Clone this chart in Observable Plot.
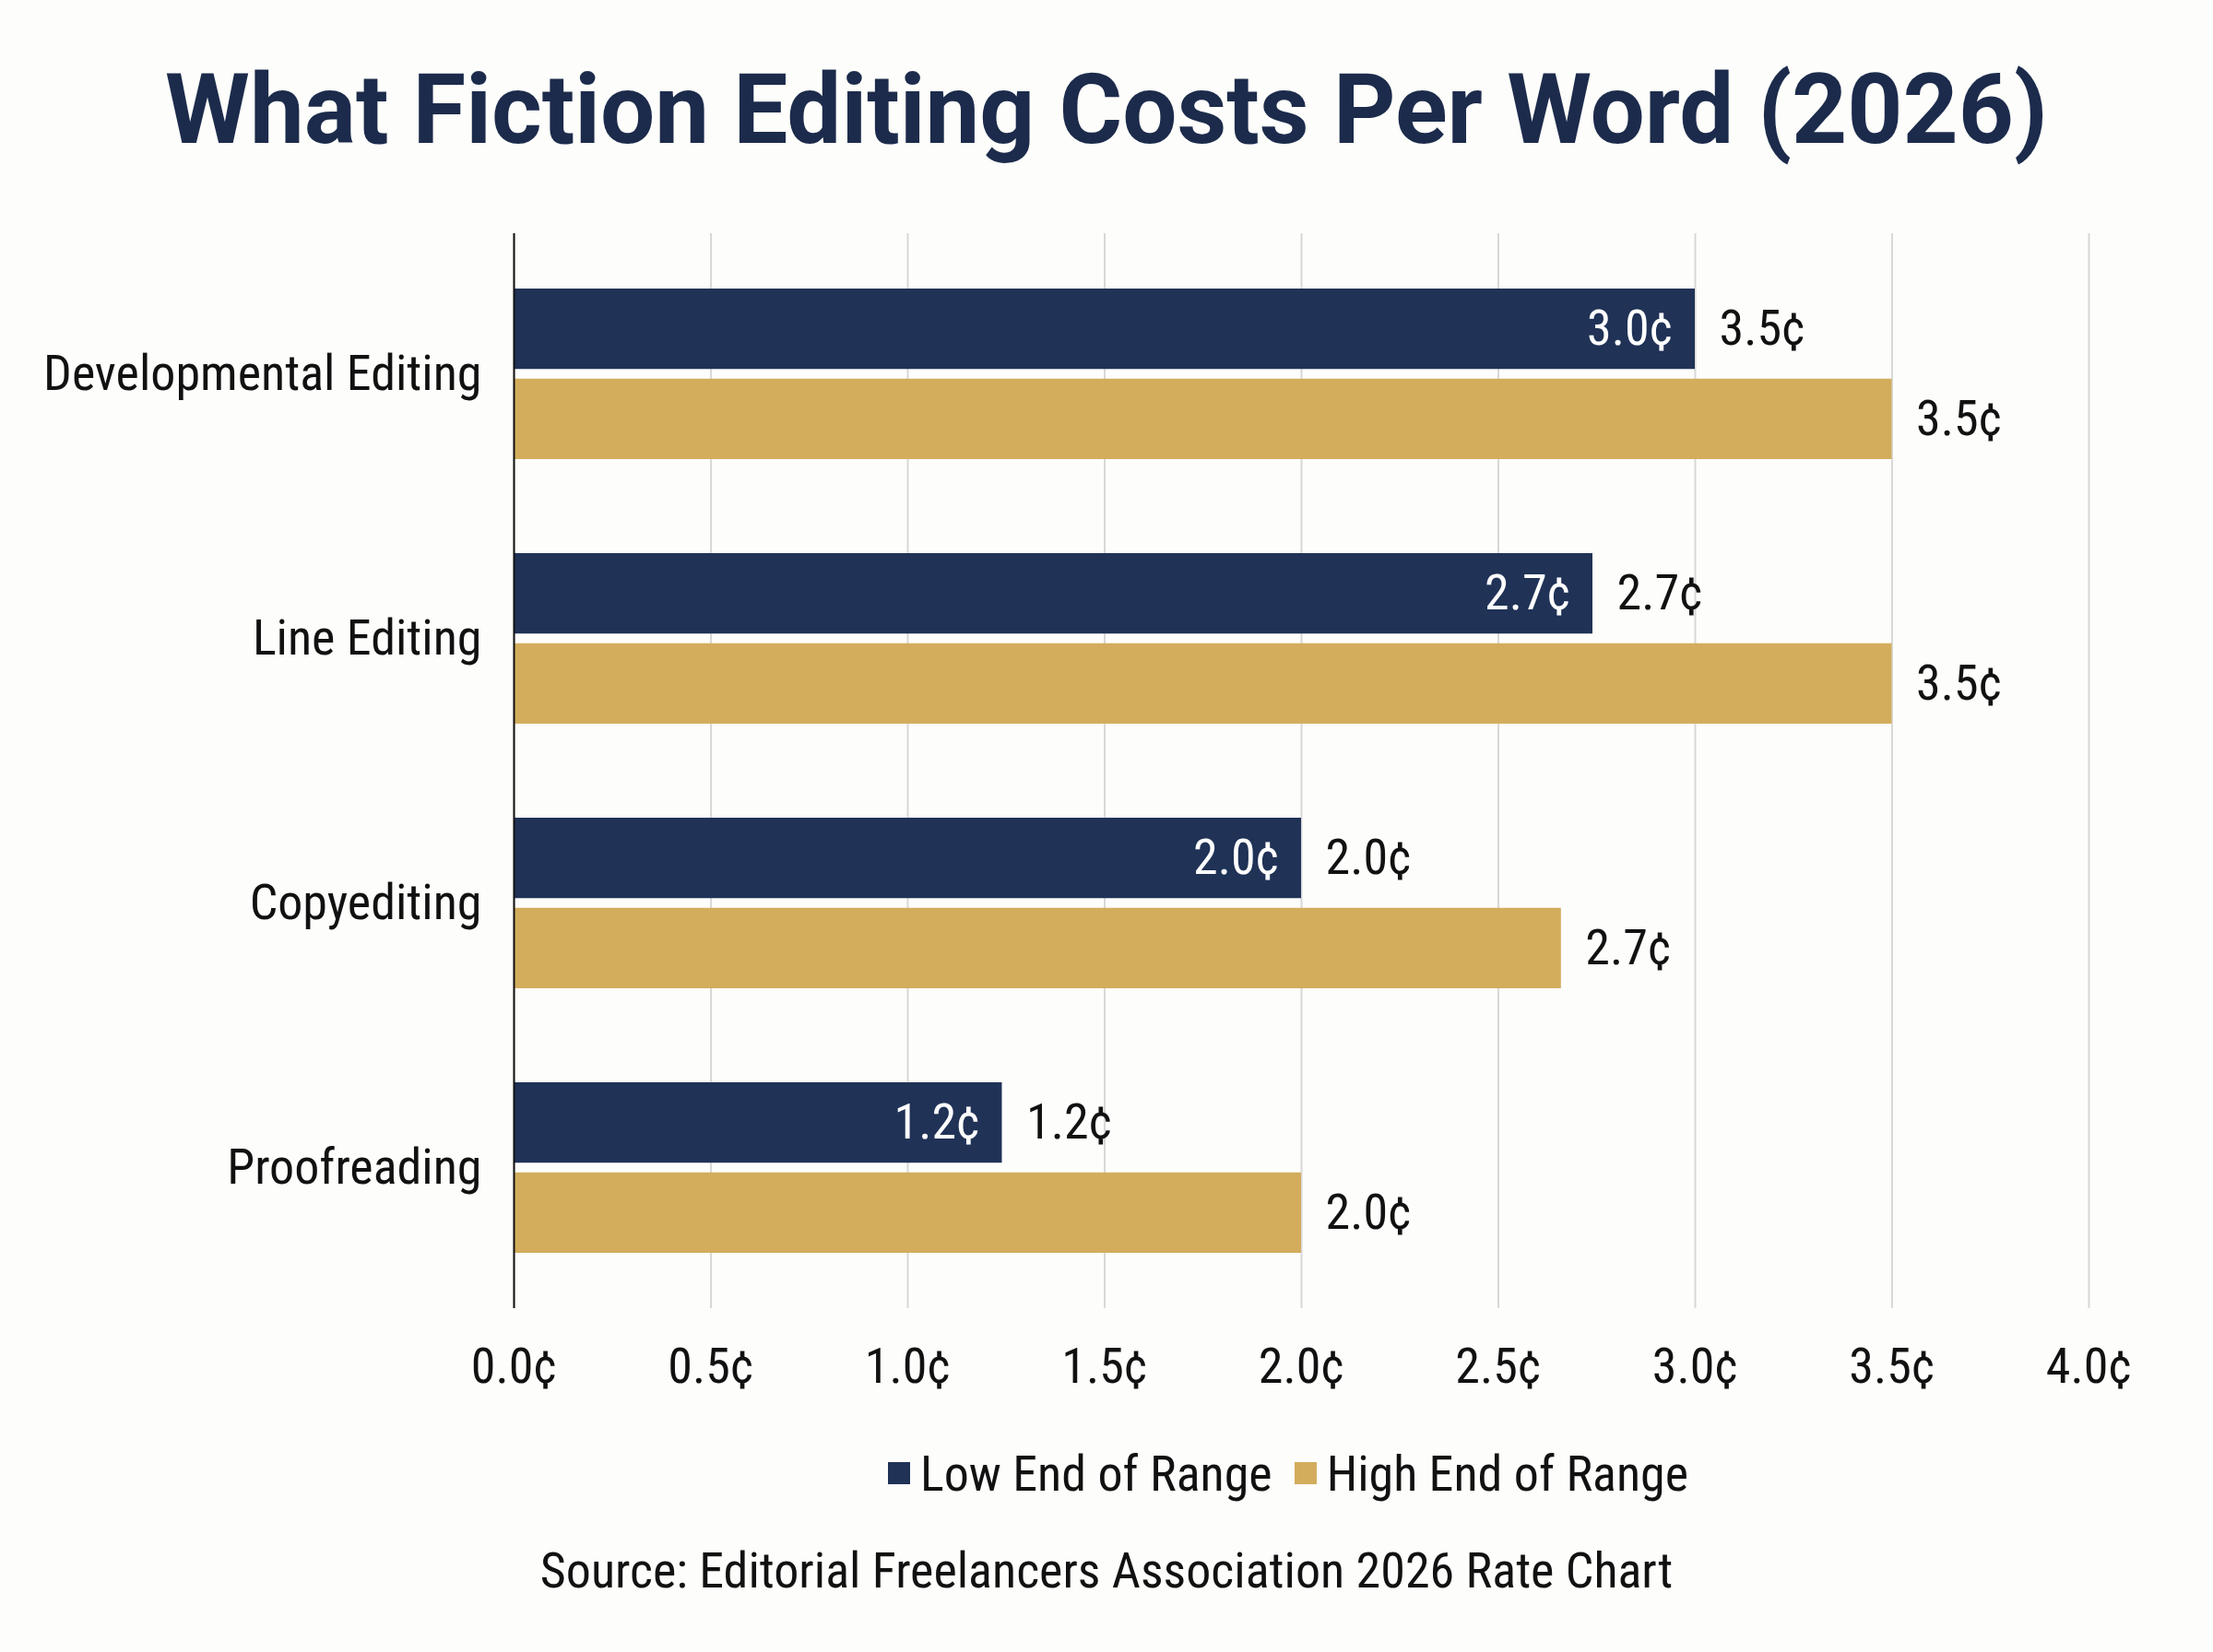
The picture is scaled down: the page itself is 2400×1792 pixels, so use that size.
<!DOCTYPE html>
<html>
<head>
<meta charset="utf-8">
<script src="https://cdn.jsdelivr.net/npm/d3@7"></script>
<script src="https://cdn.jsdelivr.net/npm/@observablehq/plot@0.6"></script>
<style>
  html, body { margin: 0; padding: 0; background: #fdfdfb; }
  #wrap { width: 2400px; height: 1792px; position: relative; overflow: hidden; }
  #title { box-sizing: border-box; height: 200px; padding-top: 67px; text-align: center;
    font-family: Roboto, "Noto Sans", sans-serif; font-weight: 700; font-size: 105px; line-height: 1;
    color: #1c2b4b; white-space: nowrap; }
  .cond { font-family: "Roboto Condensed", "Liberation Sans Narrow", "DejaVu Sans Condensed", "DejaVu Sans", sans-serif; font-stretch: condensed; }
  #legend { position: absolute; left: 543px; width: 1708px; top: 1566px; height: 64px;
    display: flex; justify-content: center; align-items: center; font-size: 54px; color: #111; }
  .item { display: flex; align-items: center; margin: 0 12px; }
  .sw { width: 24px; height: 24px; margin-right: 11px; }
  #source { position: absolute; left: 0; width: 2400px; top: 1672px; height: 64px; line-height: 64px;
    text-align: center; font-size: 54px; color: #111; }
</style>
</head>
<body>
<div id="wrap">
  <div id="title">What Fiction Editing Costs Per Word (2026)</div>
  <div id="chart"></div>
  <div id="legend" class="cond"></div>
  <div id="source" class="cond">Source: Editorial Freelancers Association 2026 Rate Chart</div>
</div>
<script>
const categories = ["Developmental Editing", "Line Editing", "Copyediting", "Proofreading"];
const seriesNames = ["Low End of Range", "High End of Range"];
const lowValues = [3.0, 2.74, 2.0, 1.24];
const highValues = [3.5, 3.5, 2.66, 2.0];
const lowInnerLabels = ["3.0¢", "2.7¢", "2.0¢", "1.2¢"];
const lowOuterLabels = ["3.5¢", "2.7¢", "2.0¢", "1.2¢"];
const highLabels = ["3.5¢", "3.5¢", "2.7¢", "2.0¢"];
const xTicks = [0, 0.5, 1, 1.5, 2, 2.5, 3, 3.5, 4];
const seriesColors = ["#203256", "#d3ad5c"];

const lowRows = categories.map((c, i) => ({category: c, series: seriesNames[0], value: lowValues[i], outer: lowOuterLabels[i], inner: lowInnerLabels[i]}));
const highRows = categories.map((c, i) => ({category: c, series: seriesNames[1], value: highValues[i], outer: highLabels[i]}));

// layout
const W = 2400, H = 1329, mTop = 53, mBottom = 110, mLeft = 557, mRight = 135;
const padInner = 0.357, padOuter = 0.207, barGapFrac = 0.058;
const step = (H - mTop - mBottom) / (categories.length - padInner + 2 * padOuter);
const band = step * (1 - padInner);
const barH = band * (1 - barGapFrac) / 2;
const inset = band - barH;
const off = (band - barH) / 2;

const condFont = '"Roboto Condensed", "Liberation Sans Narrow", "DejaVu Sans Condensed", "DejaVu Sans", sans-serif';

const chart = Plot.plot({
  width: W,
  height: H,
  marginTop: mTop,
  marginBottom: mBottom,
  marginLeft: mLeft,
  marginRight: mRight,
  style: {fontFamily: condFont, fontSize: "54px", color: "#111", background: "transparent", fontStretch: "condensed"},
  x: {domain: [0, 4], ticks: xTicks, tickFormat: d => d.toFixed(1) + "¢", tickSize: 0, tickPadding: 42, label: null},
  y: {domain: categories, paddingInner: padInner, paddingOuter: padOuter, label: null, tickSize: 0, tickPadding: 35},
  marks: [
    Plot.gridX(xTicks, {stroke: "#d8d8d8", strokeOpacity: 1, strokeWidth: 2}),
    Plot.barX(lowRows, {y: "category", x: "value", fill: seriesColors[0], insetBottom: inset}),
    Plot.barX(highRows, {y: "category", x: "value", fill: seriesColors[1], insetTop: inset}),
    Plot.ruleX([0], {stroke: "#111", strokeWidth: 2}),
    Plot.text(lowRows, {y: "category", x: "value", text: "outer", textAnchor: "start", dx: 26, dy: -off, fill: "#111"}),
    Plot.text(lowRows, {y: "category", x: "value", text: "inner", textAnchor: "end", dx: -24, dy: -off, fill: "#ffffff"}),
    Plot.text(highRows, {y: "category", x: "value", text: "outer", textAnchor: "start", dx: 26, dy: off, fill: "#111"})
  ]
});
document.getElementById("chart").appendChild(chart);

const legend = document.getElementById("legend");
seriesNames.forEach((s, i) => {
  const item = document.createElement("div");
  item.className = "item";
  const sw = document.createElement("div");
  sw.className = "sw";
  sw.style.background = seriesColors[i];
  const lab = document.createElement("span");
  lab.textContent = s;
  item.appendChild(sw);
  item.appendChild(lab);
  legend.appendChild(item);
});
</script>
</body>
</html>
